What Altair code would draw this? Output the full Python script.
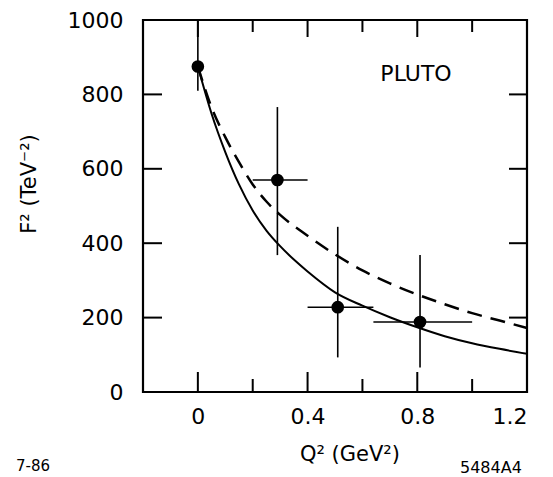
import altair as alt
import pandas as pd

# ---- data ----
pt_q2 = [0.0, 0.29, 0.51, 0.81]
pt_f2 = [875, 570, 228, 188]
pt_f2_lo = [810, 368, 93, 66]
pt_f2_hi = [1000, 766, 444, 368]

hx_q2 = [0.29, 0.51, 0.81]
hx_f2 = [570, 228, 188]
hx_lo = [0.20, 0.40, 0.64]
hx_hi = [0.40, 0.64, 1.00]

solid_q2 = [0.00, 0.05, 0.10, 0.15, 0.20, 0.25, 0.30, 0.35, 0.40, 0.50, 0.60, 0.70, 0.80, 0.90, 1.00, 1.10, 1.20]
solid_f2 = [875, 748, 645, 558, 488, 434, 392, 356, 324, 268, 232, 201, 174, 150, 131, 116, 103]

dash_q2 = [0.00, 0.05, 0.10, 0.15, 0.20, 0.25, 0.30, 0.40, 0.50, 0.60, 0.70, 0.80, 0.90, 1.00, 1.10, 1.20]
dash_f2 = [875, 765, 685, 618, 558, 512, 476, 420, 370, 327, 292, 262, 236, 212, 192, 172]

x_major = [0.0, 0.4, 0.8]
x_minor = [0.2, 0.6, 1.0]
x_labels = [0.0, 0.4, 0.8, 1.2]
y_ticks = [200, 400, 600, 800]
y_labels = [0, 200, 400, 600, 800, 1000]

W, H = 384, 372
FONT = "DejaVu Sans"

xs = alt.Scale(domain=[-0.2, 1.2], nice=False, zero=False)
ys = alt.Scale(domain=[0, 1000], nice=False, zero=False)

pts = pd.DataFrame({"q2": pt_q2, "f2": pt_f2, "lo": pt_f2_lo, "hi": pt_f2_hi})
hx = pd.DataFrame({"q2": hx_q2, "f2": hx_f2, "lo": hx_lo, "hi": hx_hi})
solid = pd.DataFrame({"q2": solid_q2, "f2": solid_f2})
dash = pd.DataFrame({"q2": dash_q2, "f2": dash_f2})
xmaj = pd.DataFrame({"v": x_major})
xmin = pd.DataFrame({"v": x_minor})
yt = pd.DataFrame({"v": y_ticks})

xaxis = alt.Axis(values=x_labels, title=None, labelFontSize=22, labelFont=FONT,
                 labelColor="black", labelPadding=14, domain=False, ticks=False, grid=False,
                 labelExpr="datum.value == 0 ? '0' : format(datum.value, '.1f')")
yaxis = alt.Axis(values=y_labels, title=None, labelFontSize=22, labelFont=FONT,
                 labelColor="black", labelPadding=20, domain=False, ticks=False, grid=False,
                 format="d")

base_solid = alt.Chart(solid).mark_line(color="black", strokeWidth=2, interpolate="monotone").encode(
    x=alt.X("q2:Q", scale=xs, axis=xaxis),
    y=alt.Y("f2:Q", scale=ys, axis=yaxis),
)
dashed = alt.Chart(dash).mark_line(color="black", strokeWidth=2.5, strokeDash=[15, 9],
                                   interpolate="monotone").encode(
    x=alt.X("q2:Q", scale=xs), y=alt.Y("f2:Q", scale=ys))

vbars = alt.Chart(pts).mark_rule(color="black", strokeWidth=1.6, clip=True).encode(
    x=alt.X("q2:Q", scale=xs), y=alt.Y("lo:Q", scale=ys), y2="hi:Q")
hbars = alt.Chart(hx).mark_rule(color="black", strokeWidth=1.6).encode(
    x=alt.X("lo:Q", scale=xs), x2="hi:Q", y=alt.Y("f2:Q", scale=ys))
dots = alt.Chart(pts).mark_circle(color="black", opacity=1, size=160).encode(
    x=alt.X("q2:Q", scale=xs), y=alt.Y("f2:Q", scale=ys))

# frame
frame = alt.Chart(pd.DataFrame({"a": [0]})).mark_rect(
    fill=None, stroke="black", strokeWidth=2.2).encode(
    x=alt.value(0), x2=alt.value(W), y=alt.value(0), y2=alt.value(H))

# inward ticks
t_bot_maj = alt.Chart(xmaj).mark_rule(color="black", strokeWidth=2).encode(
    x=alt.X("v:Q", scale=xs), y=alt.value(H), y2=alt.value(H - 20))
t_bot_min = alt.Chart(xmin).mark_rule(color="black", strokeWidth=2).encode(
    x=alt.X("v:Q", scale=xs), y=alt.value(H), y2=alt.value(H - 13))
t_top_maj = alt.Chart(xmaj).mark_rule(color="black", strokeWidth=2).encode(
    x=alt.X("v:Q", scale=xs), y=alt.value(0), y2=alt.value(17))
t_top_min = alt.Chart(xmin).mark_rule(color="black", strokeWidth=2).encode(
    x=alt.X("v:Q", scale=xs), y=alt.value(0), y2=alt.value(12))
t_left = alt.Chart(yt).mark_rule(color="black", strokeWidth=2).encode(
    y=alt.Y("v:Q", scale=ys), x=alt.value(0), x2=alt.value(19))
t_right = alt.Chart(yt).mark_rule(color="black", strokeWidth=2).encode(
    y=alt.Y("v:Q", scale=ys), x=alt.value(W), x2=alt.value(W - 18))

def txt(s, x, y, size, angle=0, align="center"):
    return alt.Chart(pd.DataFrame({"t": [s]})).mark_text(
        font=FONT, fontSize=size, color="black", angle=angle, align=align, baseline="middle"
    ).encode(text="t:N", x=alt.value(x), y=alt.value(y))

pluto = txt("PLUTO", 273, 54, 22)
ytitle = txt("F²  (TeV⁻²)", -113, 164, 21, angle=270)
xtitle = txt("Q²   (GeV²)", 207, 435, 21)
left_note = txt("7-86", -110, 446, 15)
right_note = txt("5484A4", 317, 448, 16, align="left")

chart = alt.layer(
    base_solid, dashed, vbars, hbars, dots, frame,
    t_bot_maj, t_bot_min, t_top_maj, t_top_min, t_left, t_right,
    pluto, ytitle, xtitle, left_note, right_note,
).properties(
    width=W, height=H,
    autosize=alt.AutoSizeParams(type="none"),
    padding={"left": 135, "top": 12, "right": 18, "bottom": 85},
).configure(background="white").configure_view(stroke=None)

chart.save("out.html", embed_options={"renderer": "svg", "actions": False})
